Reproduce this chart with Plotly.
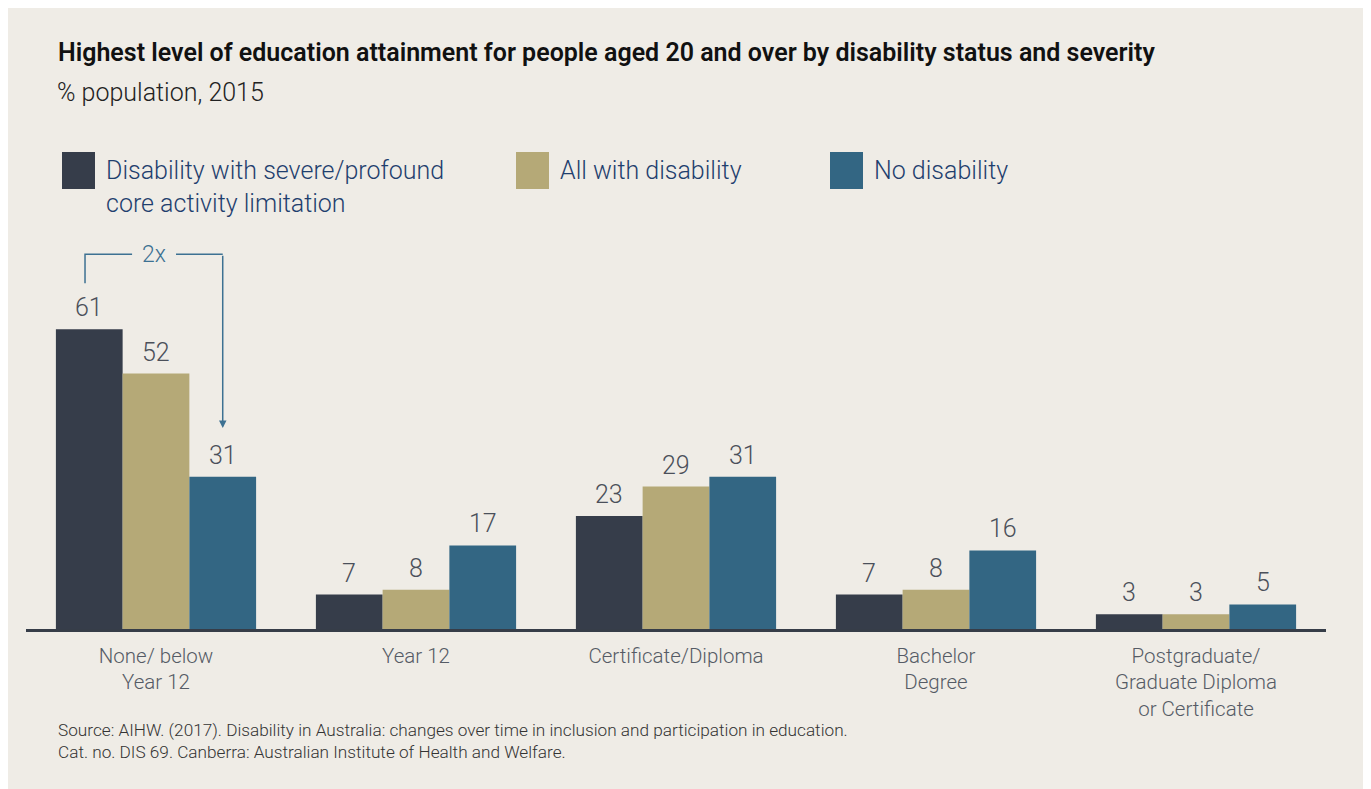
import plotly.graph_objects as go

categories = ["None/ below<br>Year 12", "Year 12", "Certificate/Diploma",
              "Bachelor<br>Degree", "Postgraduate/<br>Graduate Diploma<br>or Certificate"]
series_names = ["Disability with severe/profound<br>core activity limitation",
                "All with disability", "No disability"]
severe = [61, 7, 23, 7, 3]
all_disability = [52, 8, 29, 8, 3]
no_disability = [31, 17, 31, 16, 5]
series_values = [severe, all_disability, no_disability]
colors = ["#363d4a", "#b5a977", "#336683"]

title = "Highest level of education attainment for people aged 20 and over by disability status and severity"
subtitle = "% population, 2015"
source = ("Source: AIHW. (2017). Disability in Australia: changes over time in inclusion and participation in education.<br>"
          "Cat. no. DIS 69. Canberra: Australian Institute of Health and Welfare.")

OFF = 8  # page body margin
W, H = 1363, 781
ML, MR, MT, MB = 18, 45, 228, 160
PW, PH = W - ML - MR, H - MT - MB
BARGAP = 0.23
YMAX = 80


def px(x):
    return (x - OFF - ML) / PW


def py(y):
    return (H - MB - (y - OFF)) / PH


FONT = "Roboto"
fig = go.Figure()
for name, vals, col in zip(series_names, series_values, colors):
    fig.add_trace(go.Bar(x=list(range(len(categories))), y=vals, name=name,
                         marker=dict(color=col, line=dict(width=0)), showlegend=False))

bw = (1 - BARGAP) / 3
annotations = []
for k, vals in enumerate(series_values):
    for i, v in enumerate(vals):
        annotations.append(dict(x=i + (k - 1) * bw, y=v, xref="x", yref="y", text=str(v),
                                showarrow=False, yanchor="bottom", yshift=5,
                                font=dict(family=FONT, size=25, color="#4b505a", weight=300)))

# title, subtitle, source
annotations.append(dict(x=px(56), y=py(52), xref="paper", yref="paper", text=title,
                        showarrow=False, xanchor="left", yanchor="middle",
                        font=dict(family=FONT, size=25, color="#111111", weight=600)))
annotations.append(dict(x=px(55), y=py(92), xref="paper", yref="paper", text=subtitle,
                        showarrow=False, xanchor="left", yanchor="middle",
                        font=dict(family=FONT, size=25, color="#222222", weight=300)))
annotations.append(dict(x=px(56), y=py(718), xref="paper", yref="paper", text=source,
                        showarrow=False, xanchor="left", yanchor="top", align="left",
                        font=dict(family=FONT, size=17.2, color="#333333", weight=300)))

# legend
shapes = [dict(type="rect", xref="paper", yref="paper", x0=px(5), x1=px(1366),
               y0=py(7), y1=py(800), fillcolor="#efece6", line=dict(width=0), layer="below")]
leg_x = [62, 516, 830]
for lx, name, col in zip(leg_x, series_names, colors):
    shapes.append(dict(type="rect", xref="paper", yref="paper", x0=px(lx), x1=px(lx + 33),
                       y0=py(152), y1=py(189), fillcolor=col, line=dict(width=0)))
    annotations.append(dict(x=px(lx + 42), y=py(154), xref="paper", yref="paper", text=name,
                            showarrow=False, xanchor="left", yanchor="top", align="left",
                            font=dict(family=FONT, size=25, color="#1f3f6e", weight=300)))

# 2x bracket
bc = "#3d7192"
top_v = 76.3
left_x = -0.273
right_x = bw
shapes.append(dict(type="path", xref="x", yref="y",
                   path=f"M {left_x},70.4 L {left_x},{top_v} L -0.092,{top_v}",
                   line=dict(color=bc, width=1.5)))
shapes.append(dict(type="line", xref="x", yref="y", x0=0.077, x1=right_x, y0=top_v, y1=top_v,
                   line=dict(color=bc, width=1.5)))
annotations.append(dict(x=right_x, y=40.9, ax=right_x, ay=top_v, xref="x", yref="y",
                        axref="x", ayref="y", text="", showarrow=True, arrowhead=2,
                        arrowsize=1, arrowwidth=1.5, arrowcolor=bc))
annotations.append(dict(x=-0.008, y=top_v, xref="x", yref="y", text="2x", showarrow=False,
                        font=dict(family=FONT, size=23, color=bc, weight=300)))

fig.update_layout(
    width=W, height=H,
    margin=dict(l=ML, r=MR, t=MT, b=MB),
    paper_bgcolor="white", plot_bgcolor="rgba(0,0,0,0)",
    barmode="group", bargap=BARGAP, bargroupgap=0,
    shapes=shapes, annotations=annotations,
    xaxis=dict(tickmode="array", tickvals=list(range(len(categories))), ticktext=categories,
               range=[-0.5, len(categories) - 0.5], showline=True, linewidth=3,
               linecolor="#363d48", ticks="", showgrid=False, zeroline=False,
               ticklabelstandoff=6,
               tickfont=dict(family=FONT, size=20.5, color="#555b65", weight=300)),
    yaxis=dict(range=[0, YMAX], visible=False, showgrid=False, zeroline=False),
)
fig.write_html("out.html")
